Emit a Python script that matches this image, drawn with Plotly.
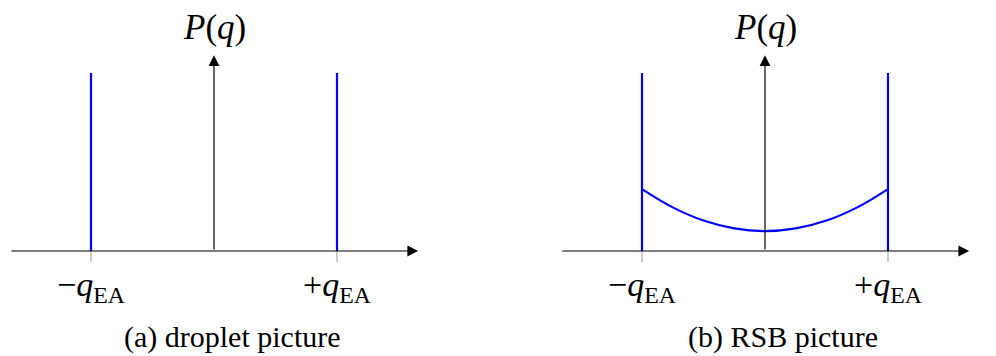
import plotly.graph_objects as go

# Overlap distribution P(q) in two pictures of the spin-glass phase.
# q is measured in units of q_EA; P is measured in units of the delta-peak height.
q_peaks = [-1.0, 1.0]
peak_height = [1.0, 1.0]
tick_text = ["−<i>q</i><sub>EA</sub>", "+<i>q</i><sub>EA</sub>"]

# Continuous part of P(q) between the peaks (RSB picture)
q_cont = [-1.0, -0.75, -0.5, -0.25, 0.0, 0.25, 0.5, 0.75, 1.0]
p_cont = [0.348, 0.245, 0.171, 0.127, 0.112, 0.127, 0.171, 0.245, 0.348]

captions = ["(a) droplet picture", "(b) RSB picture"]

q_axis = [-1.66, 1.66]
p_axis_top = 1.10

W, H = 996, 356
BLUE = "#0000ff"
FONT = "Liberation Serif"

x_range = [-1.7, 1.7]
y_range = [-0.4, 1.3]
unit_px = 123.0
centers = [214, 765]
y_dom = [33.8 / H, 336.4 / H]


def txt(size):
    return go.layout.annotation.Font(family=FONT, size=size, color="black")


fig = go.Figure()
layout = dict(
    width=W, height=H,
    margin=dict(l=0, r=0, t=0, b=0),
    paper_bgcolor="white", plot_bgcolor="white",
    showlegend=False,
)

annotations = []
shapes = []
for k in range(2):
    xa = "x" if k == 0 else "x2"
    ya = "y" if k == 0 else "y2"
    half = (x_range[1] - x_range[0]) / 2 * unit_px
    dom = [(centers[k] - half) / W, (centers[k] + half) / W]
    layout["xaxis" if k == 0 else "xaxis2"] = dict(
        range=x_range, domain=dom, visible=False, fixedrange=True,
        anchor=ya)
    layout["yaxis" if k == 0 else "yaxis2"] = dict(
        range=y_range, domain=y_dom, visible=False, fixedrange=True,
        anchor=xa)

    # delta peaks at +/- q_EA
    for qp, h in zip(q_peaks, peak_height):
        fig.add_trace(go.Scatter(
            x=[qp, qp], y=[0, h], mode="lines",
            line=dict(color=BLUE, width=2.2), xaxis=xa, yaxis=ya,
            hoverinfo="skip"))

    if k == 1:
        fig.add_trace(go.Scatter(
            x=q_cont, y=p_cont, mode="lines",
            line=dict(color=BLUE, width=2.2, shape="spline"),
            xaxis=xa, yaxis=ya, hoverinfo="skip"))

    # tick marks below the q axis
    for qp in q_peaks:
        shapes.append(dict(
            type="line", xref=xa, yref=ya, x0=qp, x1=qp, y0=0, y1=-0.062,
            line=dict(color="#999999", width=1), layer="below"))

    # q axis with arrow
    annotations.append(dict(
        xref=xa, yref=ya, axref=xa, ayref=ya,
        x=q_axis[1], y=0, ax=q_axis[0], ay=0, text="",
        showarrow=True, arrowhead=2, arrowsize=1.8, arrowwidth=1.2,
        arrowcolor="#000000", standoff=0, startstandoff=0))
    # P axis with arrow
    annotations.append(dict(
        xref=xa, yref=ya, axref=xa, ayref=ya,
        x=0, y=p_axis_top, ax=0, ay=0, text="",
        showarrow=True, arrowhead=2, arrowsize=1.8, arrowwidth=1.2,
        arrowcolor="#000000", standoff=0, startstandoff=0))

    # axis labels
    annotations.append(dict(
        xref=xa, yref=ya, x=0, y=1.255, text="<i>P</i>(<i>q</i>)",
        showarrow=False, font=txt(35),
        xanchor="center", yanchor="middle"))
    annotations.append(dict(
        xref=xa, yref=ya, x=q_axis[1] + 0.08, y=-0.01, text="<i>q</i>",
        showarrow=False, font=txt(33),
        xanchor="left", yanchor="middle"))

    # tick labels
    for qp, t in zip(q_peaks, tick_text):
        annotations.append(dict(
            xref=xa, yref=ya, x=qp, y=-0.205, text=t, showarrow=False,
            font=txt(34), xanchor="center", yanchor="middle"))

    # sub-figure caption
    annotations.append(dict(
        xref="paper", yref="paper", x=(centers[k] + 18) / W, y=(H - 337) / H,
        text=captions[k], showarrow=False, font=txt(30), borderpad=0,
        xanchor="center", yanchor="middle"))

layout["annotations"] = annotations
layout["shapes"] = shapes
fig.update_layout(**layout)
fig.write_html("out.html")
